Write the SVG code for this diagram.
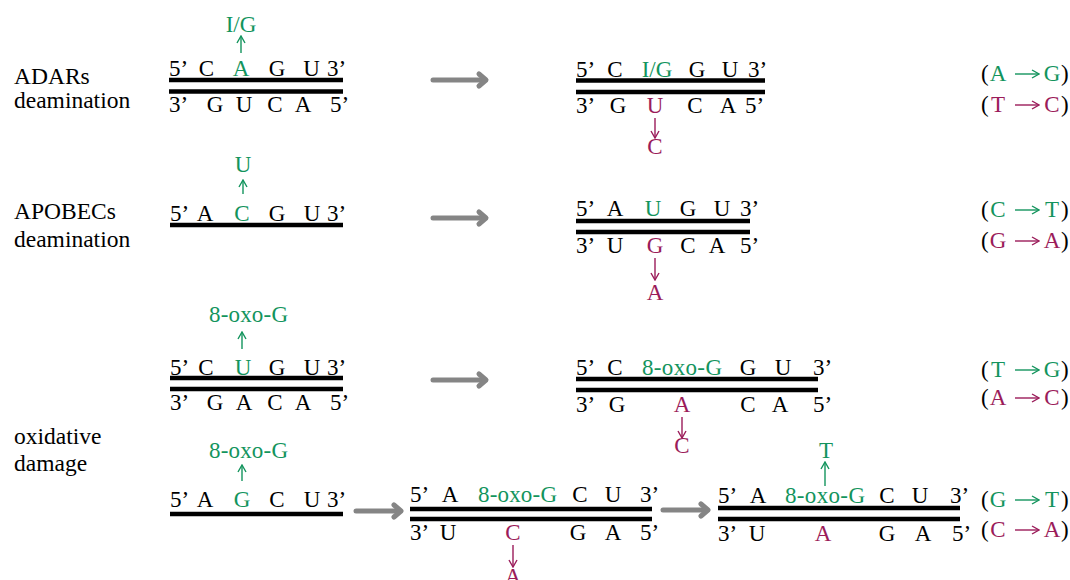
<svg xmlns="http://www.w3.org/2000/svg" width="1070" height="580" viewBox="0 0 1070 580">
<defs>
<style>
text{font-family:"Liberation Serif","Times New Roman","DejaVu Serif",serif;font-size:23px;fill:#000}
.c{text-anchor:middle}
.g{fill:#13945d}
.m{fill:#9b1c5a}
.lab{font-size:23.5px}
.bar{stroke:#000;stroke-width:4.5}
.ag{stroke:#13945d;stroke-width:1.4;fill:none;marker-end:url(#hg)}
.am{stroke:#9b1c5a;stroke-width:1.4;fill:none;marker-end:url(#hm)}
.gray{stroke:#858585;stroke-width:5;fill:none;stroke-linecap:round;stroke-linejoin:round}
</style>
<marker id="hg" viewBox="0 0 10 10" refX="9" refY="5" markerWidth="10" markerHeight="10" markerUnits="userSpaceOnUse" orient="auto"><path d="M2,1 L9,5 L2,9" fill="none" stroke="#13945d" stroke-width="1.4"/></marker>
<marker id="hm" viewBox="0 0 10 10" refX="9" refY="5" markerWidth="10" markerHeight="10" markerUnits="userSpaceOnUse" orient="auto"><path d="M2,1 L9,5 L2,9" fill="none" stroke="#9b1c5a" stroke-width="1.4"/></marker>
</defs>

<g id="labels-left">
<text class="lab" x="14" y="84">ADARs</text>
<text class="lab" x="14" y="108">deamination</text>
<text class="lab" x="14" y="219">APOBECs</text>
<text class="lab" x="14" y="247">deamination</text>
<text class="lab" x="14" y="444">oxidative</text>
<text class="lab" x="14" y="471">damage</text>
</g>

<g id="connectors">
<line class="gray" x1="433" y1="80" x2="485" y2="80"/><polyline class="gray" points="479,74 486,80 479,86"/>
<line class="gray" x1="433" y1="218" x2="485" y2="218"/><polyline class="gray" points="479,212 486,218 479,224"/>
<line class="gray" x1="433" y1="380" x2="485" y2="380"/><polyline class="gray" points="479,374 486,380 479,386"/>
<line class="gray" x1="356" y1="511" x2="400" y2="511"/><polyline class="gray" points="394,505 401,511 394,517"/>
<line class="gray" x1="663" y1="510" x2="707" y2="510"/><polyline class="gray" points="701,504 708,510 701,516"/>
</g>

<g id="adar-left">
<text class="g c" x="241" y="32">I/G</text>
<line class="ag" x1="241" y1="53" x2="241" y2="36"/>
<text x="169" y="76">5’</text><text class="c" x="206.5" y="76">C</text><text class="c g" x="241" y="76">A</text><text class="c" x="277" y="76">G</text><text class="c" x="311.5" y="76">U</text><text x="327" y="76">3’</text>
<line class="bar" x1="169" y1="80" x2="343" y2="80"/>
<line class="bar" x1="169" y1="91.5" x2="343" y2="91.5"/>
<text x="169" y="112">3’</text><text class="c" x="215" y="112">G</text><text class="c" x="244" y="112">U</text><text class="c" x="275" y="112">C</text><text class="c" x="303" y="112">A</text><text x="330" y="112">5’</text>
</g>

<g id="adar-right">
<text x="576" y="77">5’</text><text class="c" x="615" y="77">C</text><text class="c g" x="657" y="77">I/G</text><text class="c" x="697" y="77">G</text><text class="c" x="730" y="77">U</text><text x="748" y="77">3’</text>
<line class="bar" x1="576" y1="80.5" x2="765" y2="80.5"/>
<line class="bar" x1="576" y1="92" x2="765" y2="92"/>
<text x="576" y="113">3’</text><text class="c" x="618" y="113">G</text><text class="c m" x="655" y="113">U</text><text class="c" x="695" y="113">C</text><text class="c" x="728" y="113">A</text><text x="745" y="113">5’</text>
<line class="am" x1="655" y1="118" x2="655" y2="138"/>
<text class="c m" x="655" y="154">C</text>
</g>

<g id="apobec-left">
<text class="g c" x="243" y="172">U</text>
<line class="ag" x1="243" y1="194" x2="243" y2="180"/>
<text x="170" y="221">5’</text><text class="c" x="205" y="221">A</text><text class="c g" x="242" y="221">C</text><text class="c" x="277" y="221">G</text><text class="c" x="312" y="221">U</text><text x="327" y="221">3’</text>
<line class="bar" x1="170" y1="225" x2="343" y2="225"/>
</g>

<g id="apobec-right">
<text x="576" y="216">5’</text><text class="c" x="615" y="216">A</text><text class="c g" x="653" y="216">U</text><text class="c" x="688" y="216">G</text><text class="c" x="722" y="216">U</text><text x="740" y="216">3’</text>
<line class="bar" x1="576" y1="221" x2="750" y2="221"/>
<line class="bar" x1="576" y1="232" x2="750" y2="232"/>
<text x="576" y="253">3’</text><text class="c" x="615" y="253">U</text><text class="c m" x="655" y="253">G</text><text class="c" x="688" y="253">C</text><text class="c" x="717" y="253">A</text><text x="740" y="253">5’</text>
<line class="am" x1="655" y1="258" x2="655" y2="280"/>
<text class="c m" x="655" y="300">A</text>
</g>

<g id="oxo-ds-left">
<text class="g" x="209" y="322" textLength="79" lengthAdjust="spacing">8-oxo-G</text>
<line class="ag" x1="242" y1="349" x2="242" y2="332"/>
<text x="170" y="375">5’</text><text class="c" x="206" y="375">C</text><text class="c g" x="243" y="375">U</text><text class="c" x="277" y="375">G</text><text class="c" x="312" y="375">U</text><text x="327" y="375">3’</text>
<line class="bar" x1="170" y1="378" x2="343" y2="378"/>
<line class="bar" x1="170" y1="389" x2="343" y2="389"/>
<text x="170" y="410">3’</text><text class="c" x="215" y="410">G</text><text class="c" x="244" y="410">A</text><text class="c" x="275" y="410">C</text><text class="c" x="303" y="410">A</text><text x="330" y="410">5’</text>
</g>

<g id="oxo-ds-right">
<text x="576" y="375">5’</text><text class="c" x="615" y="375">C</text><text class="g" x="642" y="375" textLength="80" lengthAdjust="spacing">8-oxo-G</text><text class="c" x="748" y="375">G</text><text class="c" x="783" y="375">U</text><text x="813" y="375">3’</text>
<line class="bar" x1="576" y1="379" x2="818" y2="379"/>
<line class="bar" x1="576" y1="390" x2="818" y2="390"/>
<text x="576" y="412">3’</text><text class="c" x="617" y="412">G</text><text class="c m" x="682" y="412">A</text><text class="c" x="748" y="412">C</text><text class="c" x="780" y="412">A</text><text x="813" y="412">5’</text>
<line class="am" x1="682" y1="417" x2="682" y2="438"/>
<text class="c m" x="682" y="453">C</text>
</g>

<g id="oxo-ss-left">
<text class="g" x="209" y="458" textLength="79" lengthAdjust="spacing">8-oxo-G</text>
<line class="ag" x1="242" y1="481" x2="242" y2="465"/>
<text x="170" y="507">5’</text><text class="c" x="205" y="507">A</text><text class="c g" x="242" y="507">G</text><text class="c" x="277" y="507">C</text><text class="c" x="312" y="507">U</text><text x="327" y="507">3’</text>
<line class="bar" x1="170" y1="514" x2="343" y2="514"/>
</g>

<g id="oxo-ss-mid">
<text x="410" y="502">5’</text><text class="c" x="450" y="502">A</text><text class="g" x="478" y="502" textLength="79" lengthAdjust="spacing">8-oxo-G</text><text class="c" x="580" y="502">C</text><text class="c" x="613" y="502">U</text><text x="640" y="502">3’</text>
<line class="bar" x1="410" y1="509" x2="652" y2="509"/>
<line class="bar" x1="410" y1="519" x2="652" y2="519"/>
<text x="410" y="540">3’</text><text class="c" x="448" y="540">U</text><text class="c m" x="513" y="540">C</text><text class="c" x="578" y="540">G</text><text class="c" x="613" y="540">A</text><text x="640" y="540">5’</text>
<line class="am" x1="513" y1="545" x2="513" y2="567"/>
<text class="c m" x="513" y="584">A</text>
</g>

<g id="oxo-ss-right">
<text class="c g" x="826" y="458">T</text>
<line class="ag" x1="825" y1="486" x2="825" y2="462"/>
<text x="718" y="503">5’</text><text class="c" x="758" y="503">A</text><text class="g" x="785" y="503" textLength="80" lengthAdjust="spacing">8-oxo-G</text><text class="c" x="887" y="503">C</text><text class="c" x="920" y="503">U</text><text x="950" y="503">3’</text>
<line class="bar" x1="718" y1="508" x2="960" y2="508"/>
<line class="bar" x1="718" y1="519" x2="960" y2="519"/>
<text x="718" y="541">3’</text><text class="c" x="757" y="541">U</text><text class="c m" x="823" y="541">A</text><text class="c" x="887" y="541">G</text><text class="c" x="923" y="541">A</text><text x="952" y="541">5’</text>
</g>

<g id="labels-right">
<text x="981" y="81">(</text><text class="c g" x="998" y="81">A</text><line class="ag" x1="1015" y1="74" x2="1039" y2="74"/><text class="c g" x="1052" y="81">G</text><text x="1061" y="81">)</text>
<text x="981" y="112">(</text><text class="c m" x="998" y="112">T</text><line class="am" x1="1015" y1="105" x2="1039" y2="105"/><text class="c m" x="1052" y="112">C</text><text x="1061" y="112">)</text>
<text x="981" y="217">(</text><text class="c g" x="998" y="217">C</text><line class="ag" x1="1015" y1="210" x2="1039" y2="210"/><text class="c g" x="1052" y="217">T</text><text x="1061" y="217">)</text>
<text x="981" y="248">(</text><text class="c m" x="998" y="248">G</text><line class="am" x1="1015" y1="241" x2="1039" y2="241"/><text class="c m" x="1052" y="248">A</text><text x="1061" y="248">)</text>
<text x="981" y="377">(</text><text class="c g" x="998" y="377">T</text><line class="ag" x1="1015" y1="370" x2="1039" y2="370"/><text class="c g" x="1052" y="377">G</text><text x="1061" y="377">)</text>
<text x="981" y="405">(</text><text class="c m" x="998" y="405">A</text><line class="am" x1="1015" y1="398" x2="1039" y2="398"/><text class="c m" x="1052" y="405">C</text><text x="1061" y="405">)</text>
<text x="981" y="507">(</text><text class="c g" x="998" y="507">G</text><line class="ag" x1="1015" y1="500" x2="1039" y2="500"/><text class="c g" x="1052" y="507">T</text><text x="1061" y="507">)</text>
<text x="981" y="537">(</text><text class="c m" x="998" y="537">C</text><line class="am" x1="1015" y1="530" x2="1039" y2="530"/><text class="c m" x="1052" y="537">A</text><text x="1061" y="537">)</text>
</g>
</svg>
